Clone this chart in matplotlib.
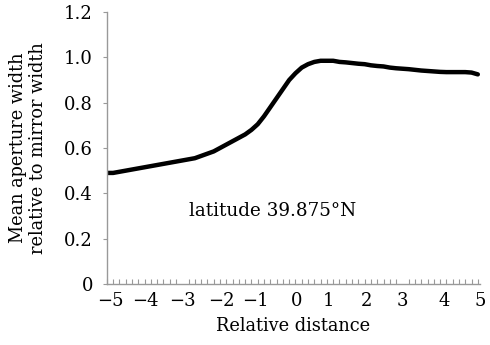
import matplotlib
matplotlib.use("Agg")
import matplotlib.pyplot as plt

# valores (un punto por categoria)
anchura = [0.49, 0.49, 0.495, 0.50, 0.505, 0.51, 0.515, 0.52, 0.525, 0.53,
           0.535, 0.54, 0.545, 0.55, 0.555, 0.565, 0.575, 0.585, 0.60, 0.615,
           0.63, 0.645, 0.66, 0.68, 0.705, 0.74, 0.78, 0.82, 0.86, 0.90,
           0.93, 0.955, 0.97, 0.98, 0.985, 0.985, 0.985, 0.98, 0.978, 0.975,
           0.972, 0.97, 0.965, 0.962, 0.96, 0.955, 0.952, 0.95, 0.948, 0.945,
           0.942, 0.94, 0.938, 0.936, 0.935, 0.935, 0.935, 0.935, 0.933, 0.925]

# etiquetas del eje x y su posicion (en indice de categoria)
etiquetas_x = ["\u22125", "\u22124", "\u22123", "\u22122", "\u22121",
               "0", "1", "2", "3", "4", "5"]
pos_etiquetas = [0.6, 6.2, 12.0, 18.2, 23.6, 30.2, 35.3, 41.3, 47.0, 53.6, 59.3]
ticks_y = [0, 0.2, 0.4, 0.6, 0.8, 1.0, 1.2]
etiquetas_y = ["0", "0.2", "0.4", "0.6", "0.8", "1.0", "1.2"]

plt.rcParams['font.family'] = ['DejaVu Serif']

fig = plt.figure(figsize=(4.9, 3.45), dpi=100)
ax = fig.add_axes([0.218, 0.177, 0.761, 0.788])

ax.plot(range(len(anchura)), anchura, color="black", lw=3.2,
        solid_capstyle="round")

ax.set_xlim(0, len(anchura) - 1)
ax.set_ylim(0, 1.2)

for lado in ["top", "right"]:
    ax.spines[lado].set_visible(False)
for lado in ["left", "bottom"]:
    ax.spines[lado].set_color("#999999")
    ax.spines[lado].set_linewidth(1.0)

ax.set_xticks(pos_etiquetas)
ax.set_xticklabels(etiquetas_x, fontsize=13)
ax.set_xticks(range(len(anchura)), minor=True)
ax.tick_params(axis="x", which="major", length=0, pad=6)
ax.tick_params(axis="x", which="minor", direction="in", length=3.5,
               color="#999999", width=0.8)

ax.set_yticks(ticks_y)
ax.set_yticklabels(etiquetas_y, fontsize=13)
ax.tick_params(axis="y", which="major", direction="out", length=3,
               color="#999999", width=0.8, pad=7)

ax.set_xlabel("Relative distance", fontsize=12.8, labelpad=5)
ax.set_ylabel("Mean aperture width\nrelative to mirror width", fontsize=12.8,
              labelpad=12, linespacing=1.15)

ax.text(26.3, 0.32, "latitude 39.875\u00b0N", fontsize=13.2, ha="center",
        va="center")

fig.savefig("out.png", dpi=100)
